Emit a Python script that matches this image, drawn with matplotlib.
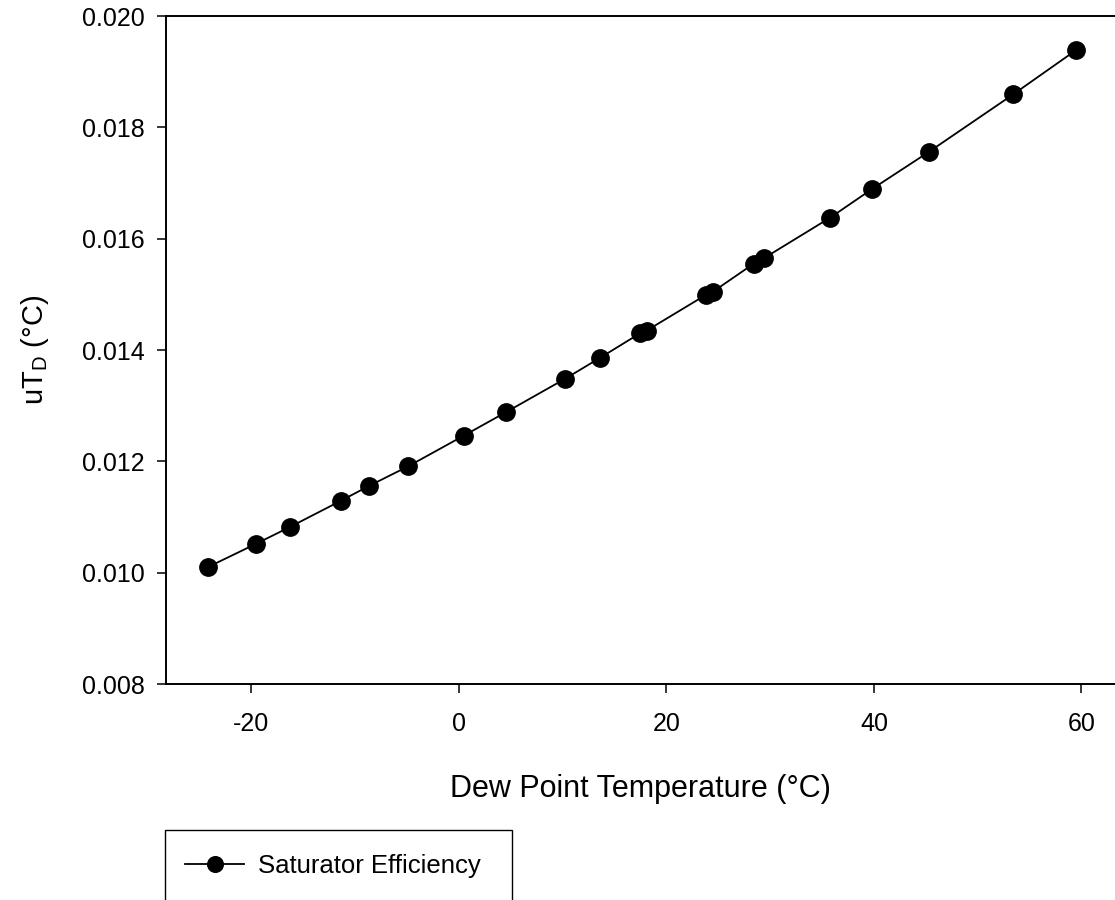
import matplotlib
matplotlib.use('Agg')
import matplotlib.pyplot as plt
from matplotlib.patches import Rectangle

# values
dew_point = [-24.2, -19.6, -16.3, -11.4, -8.65, -4.9, 0.45, 4.5, 10.2, 13.6,
             17.45, 18.1, 23.8, 24.5, 28.4, 29.4, 35.8, 39.8, 45.3, 53.4, 59.5]
u_td = [0.01010, 0.010515, 0.01082, 0.01129, 0.01156, 0.01191, 0.01246, 0.01288,
        0.01348, 0.01386, 0.01430, 0.01435, 0.01499, 0.01505, 0.01555, 0.01565,
        0.01638, 0.01689, 0.01756, 0.01859, 0.01939]
x_ticks = [-20, 0, 20, 40, 60]
y_ticks = [0.008, 0.010, 0.012, 0.014, 0.016, 0.018, 0.020]
series_label = 'Saturator Efficiency'

plt.rcParams['font.family'] = ['Liberation Sans', 'DejaVu Sans']
plt.rcParams['mathtext.fontset'] = 'custom'
plt.rcParams['mathtext.rm'] = 'Liberation Sans'
plt.rcParams['mathtext.it'] = 'Liberation Sans'

W, H = 1115, 900
fig = plt.figure(figsize=(W / 100, H / 100), dpi=100)
ax = fig.add_axes([166 / W, 1 - 684 / H, 1 - 166 / W, (684 - 16) / H])

line, = ax.plot(dew_point, u_td, color='black', lw=1.3, marker='o',
                markersize=12.5, markerfacecolor='black', markeredgecolor='black',
                label=series_label)

ax.set_xlim(-28.24, 63.23)
ax.set_ylim(0.008, 0.020)
ax.set_xticks(x_ticks)
ax.set_yticks(y_ticks)
ax.set_xticklabels([str(t) for t in x_ticks])
ax.set_yticklabels(['%.3f' % t for t in y_ticks])
ax.spines['right'].set_visible(False)
for s in ['left', 'bottom', 'top']:
    ax.spines[s].set_linewidth(1.4)
ax.tick_params(axis='x', direction='out', length=6.5, width=1.1, labelsize=18, pad=14)
ax.tick_params(axis='y', direction='out', length=6.5, width=1.1, labelsize=18, pad=9)

ax.set_xlabel('Dew Point Temperature (°C)', fontsize=22, labelpad=27)
ax.set_ylabel(r'uT$_\mathregular{D}$ (°C)', fontsize=21, labelpad=22)

# legend box in the lower left
fig.patches.append(Rectangle((165 / W, 1 - 903 / H), (512 - 165) / W, (903 - 830) / H,
                             transform=fig.transFigure, fill=False,
                             edgecolor='black', lw=1.0))
fig.legend(handles=[line], labels=[series_label], loc='center left',
           bbox_to_anchor=(185 / W, 1 - 866 / H), frameon=False, fontsize=18.5,
           handlelength=2.3, handletextpad=0.55, markerscale=0.9, borderpad=0,
           borderaxespad=0)

fig.savefig('out.png', dpi=100)
